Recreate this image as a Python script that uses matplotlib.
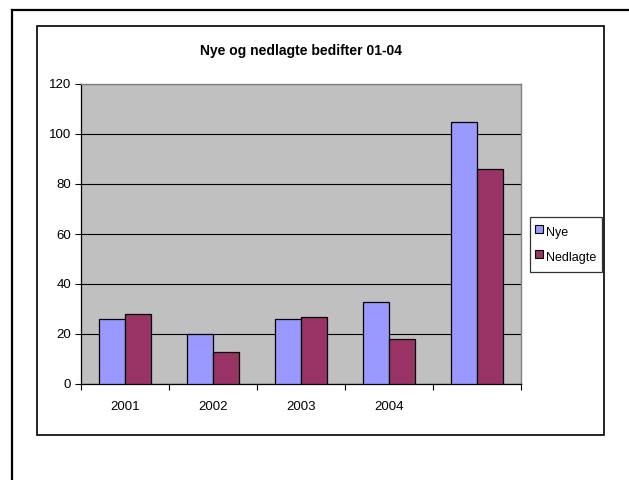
import matplotlib

matplotlib.use("Agg")
import matplotlib.pyplot as plt
import numpy as np
from matplotlib.lines import Line2D
from matplotlib.patches import Rectangle

plt.rcParams["font.family"] = ["Liberation Sans", "DejaVu Sans"]

categories = ["2001", "2002", "2003", "2004", ""]
nye = [26, 20, 26, 33, 105]
nedlagte = [28, 13, 27, 18, 86]
series_names = ["Nye", "Nedlagte"]
series_colors = ["#9999FF", "#993366"]

W, H = 629, 480
fig = plt.figure(figsize=(W / 100, H / 100), dpi=100)


def fx(px):
    return px / W


def fy(py):
    return 1 - py / H


# outer frame: only top and left edges are inside the canvas
fig.add_artist(Line2D([fx(12), 1.0], [fy(10), fy(10)], color="black", lw=1.6))
fig.add_artist(Line2D([fx(12), fx(12)], [fy(10), 0.0], color="black", lw=1.6))

# chart area border
fig.add_artist(Rectangle((fx(37), fy(435)), fx(604) - fx(37), fy(26) - fy(435),
                         transform=fig.transFigure, fill=False, edgecolor="black", lw=1.2))

ax = fig.add_axes([fx(81), fy(384), fx(521) - fx(81), fy(84) - fy(384)])
ax.set_facecolor("#C0C0C0")

x = np.arange(len(categories))
w = 0.295
ax.bar(x - w / 2, nye, w, color=series_colors[0], edgecolor="black", lw=0.9, zorder=3)
ax.bar(x + w / 2, nedlagte, w, color=series_colors[1], edgecolor="black", lw=0.9, zorder=3)

ax.set_xlim(-0.5, len(categories) - 0.5)
ax.set_ylim(0, 120)
ax.set_yticks(np.arange(0, 121, 20))
ax.yaxis.grid(True, color="black", lw=0.8, zorder=1)
ax.set_axisbelow(True)

ax.set_xticks(np.arange(-0.5, len(categories)), labels=[""] * (len(categories) + 1))
ax.set_xticks(x, labels=categories, minor=True)
ax.tick_params(axis="x", which="major", direction="out", length=4, width=0.8)
ax.tick_params(axis="x", which="minor", length=0, pad=12, labelsize=9.5)
ax.tick_params(axis="y", direction="out", length=4, width=0.8, labelsize=9.5, pad=3)

for side in ("top", "right"):
    ax.spines[side].set_color("#808080")
    ax.spines[side].set_linewidth(1.0)
for side in ("left", "bottom"):
    ax.spines[side].set_color("black")
    ax.spines[side].set_linewidth(0.9)

fig.text(fx(301), fy(51), "Nye og nedlagte bedifter 01-04", ha="center", va="center",
         fontsize=10, fontweight="bold")

# square markers keep the swatches small while the rows stay tall
handles = [Line2D([], [], ls="", marker="s", markersize=6, markerfacecolor=c,
                  markeredgecolor="black", markeredgewidth=0.8) for c in series_colors]
leg = fig.legend(handles, series_names, loc="upper left", bbox_to_anchor=(fx(530), fy(217)),
                 fontsize=9, frameon=True, fancybox=False, edgecolor="black",
                 handlelength=0.6, handleheight=2.0, handletextpad=0.3,
                 borderpad=0.4, labelspacing=0.5, borderaxespad=0)
leg.get_frame().set_linewidth(0.9)

fig.savefig("out.png", dpi=100)
